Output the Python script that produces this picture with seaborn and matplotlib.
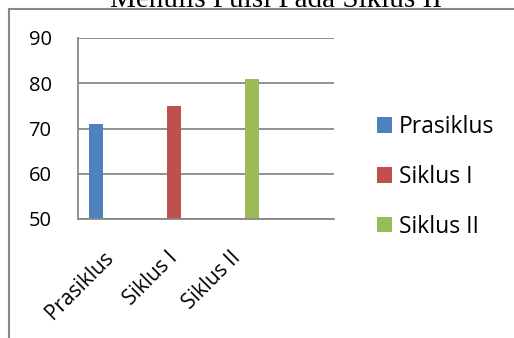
import numpy as np
import pandas as pd
import matplotlib
matplotlib.use("Agg")
import matplotlib.pyplot as plt
from matplotlib.lines import Line2D
from matplotlib.patches import Patch
import seaborn as sns

# data
categories = ["Prasiklus", "Siklus I", "Siklus II"]
series = ["Prasiklus", "Siklus I", "Siklus II"]
values = [71, 75, 81]
colors = ["#4F81BD", "#C0504D", "#9BBB59"]
title = "Menulis Puisi Pada Siklus II"

df = pd.DataFrame({"kategori": categories, "seri": series, "nilai": values})

sns.set_style("white")
plt.rcParams["font.family"] = ["Open Sans", "DejaVu Sans"]
plt.rcParams["text.color"] = "black"

W, H = 514, 338
fig = plt.figure(figsize=(W / 100, H / 100), dpi=100)
ax = fig.add_axes([78 / W, 1 - 219 / H, (334 - 78) / W, (219 - 38) / H])

sns.barplot(data=df, x="kategori", y="nilai", hue="seri", order=categories,
            hue_order=series, palette=colors, width=0.66, dodge=True,
            saturation=1, linewidth=0, legend=False, ax=ax)

grey = "#888888"
ax.set_ylim(50, 90)
ax.set_yticks([50, 60, 70, 80, 90])
ax.set_xlim(-0.5, 3.5)
ax.set_xlabel("")
ax.set_ylabel("")
ax.yaxis.grid(True, color=grey, linewidth=1.3)
ax.set_axisbelow(True)
for s in ["top", "right"]:
    ax.spines[s].set_visible(False)
for s in ["left", "bottom"]:
    ax.spines[s].set_color(grey)
    ax.spines[s].set_linewidth(1.3)

# category boundaries carry the tick marks, labels sit at the centres
ax.set_xticks(np.arange(-0.5, 4, 1), minor=True)
ax.tick_params(axis="x", which="minor", length=5, color=grey, width=1.3)
ax.tick_params(axis="x", which="major", length=0, pad=26, labelsize=15,
               labelcolor="black")
ax.tick_params(axis="y", length=6, color=grey, width=1.3, pad=13, labelsize=14.5,
               labelcolor="black")
for lbl in ax.get_xticklabels():
    lbl.set_rotation(45)
    lbl.set_ha("right")
    lbl.set_va("center")
    lbl.set_rotation_mode("anchor")

handles = [Patch(facecolor=c, edgecolor="none") for c in colors]
fig.legend(handles, series, loc="center left", bbox_to_anchor=(377 / W, 1 - 177 / H),
           bbox_transform=fig.transFigure, frameon=False, fontsize=16.5,
           handlelength=0.65, handleheight=0.65, handletextpad=0.3,
           labelspacing=1.13, borderpad=0, borderaxespad=0)

# chart border (cut off at right and bottom) and clipped title
fig.add_artist(Line2D([9 / W, 9 / W], [0, 1 - 9 / H], transform=fig.transFigure,
                      color=grey, linewidth=1.5))
fig.add_artist(Line2D([9 / W, 1], [1 - 9 / H, 1 - 9 / H], transform=fig.transFigure,
                      color=grey, linewidth=1.5))
fig.text(276 / W, 1 - 7 / H, title, ha="center", va="baseline",
         fontsize=21, family="Liberation Serif")

fig.savefig("out.png", dpi=100)
